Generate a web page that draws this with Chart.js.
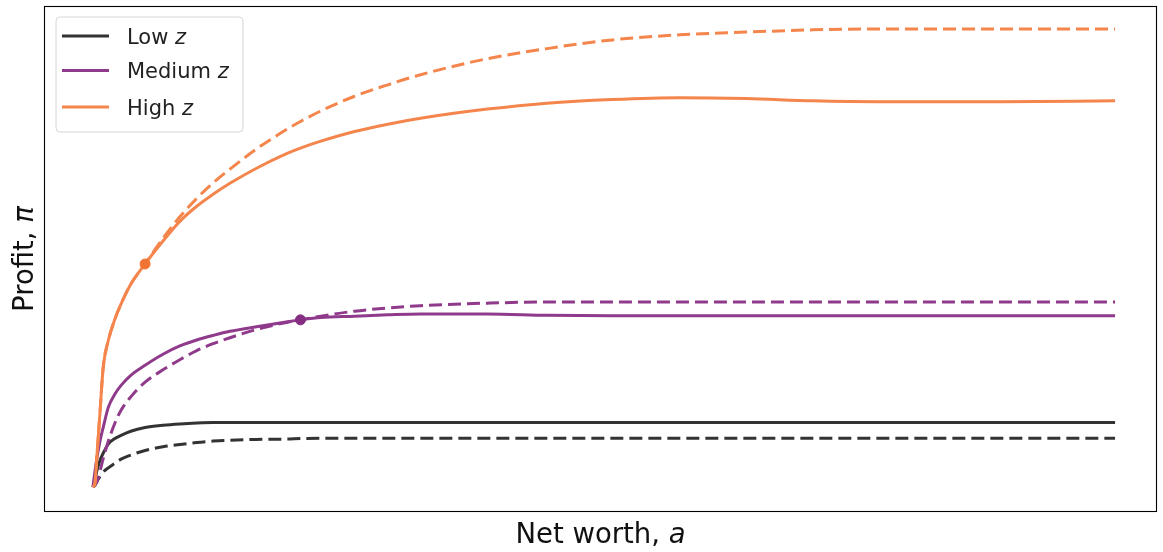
<!DOCTYPE html>
<html><head><meta charset="utf-8">
<script src="https://cdn.jsdelivr.net/npm/chart.js@4"></script>
<style>html,body{margin:0;padding:0;background:#fff;} #wrap{width:1163px;height:552px;position:relative}</style>
</head><body><div id="wrap"><canvas id="c" width="1163" height="552"></canvas></div>
<script>
// Net worth grid (arbitrary units) and profit values (arbitrary units)
const netWorth = [0,0.2,0.4,0.7,1.0, 1.5,2.15,2.75,3.7,5.1, 6.85,8.5,10.15,11.75,13.4, 16.0,19.05,20.3,22.3,25.6, 28.85,32.05,38.6,44.4,50.8, 57.4,63.9,70.4,76.9,88.7, 100];
const lowZ      = [0,1.5,3.7,5.9,7.4, 9.4,10.6,11.3,12.2,13.0, 13.5,13.8,14.0,14.1,14.1, 14.1,14.1,14.1,14.1,14.1, 14.1,14.1,14.1,14.1,14.1, 14.1,14.1,14.1,14.1,14.1, 14.1];
const lowZUnc   = [0,0.4,1.3,2.4,3.3, 4.2,5.2,6.1,7.0,8.0, 8.8,9.3,9.75,10.05,10.25, 10.4,10.5,10.6,10.65,10.65, 10.65,10.65,10.65,10.65,10.65, 10.65,10.65,10.65,10.65,10.65, 10.65];
const medZ      = [0,3.5,6.5,10.2,13.0, 17.4,20.3,22.2,24.4,26.6, 29.0,30.8,32.1,33.1,34.0, 35.0,36.1,36.5,37.0,37.3, 37.6,37.8,37.8,37.5,37.4, 37.4,37.4,37.4,37.4,37.4, 37.4];
const medZUnc   = [0,0.6,1.2,3.6,6.2, 10.0,14.0,16.8,19.7,22.9, 25.6,27.8,29.8,31.3,32.6, 34.4,36.0,36.5,37.3,38.4, 39.1,39.6,40.15,40.4,40.4, 40.4,40.4,40.4,40.4,40.4, 40.4];
const highZ     = [0,0.9,7.2,16.7,26.1, 32.0,36.7,40.0,44.3,48.7, 53.7,58.0,61.3,63.9,66.3, 69.6,72.9,74.0,75.5,77.6, 79.2,80.5,82.5,83.8,84.6, 85.0,84.8,84.3,84.1,84.1, 84.3];
const highZUnc  = [0,0.9,7.2,16.7,26.1, 32.0,36.7,40.0,44.3,48.7, 54.3,59.0,63.0,66.4,69.4, 73.8,78.2,79.8,82.1,85.3, 87.8,90.0,93.5,95.7,97.6, 98.7,99.3,99.8,100,100, 100];
const kinkX = [5.1, 20.3];
const kinkY = [48.7, 36.5];
const legendLabels = ["Low", "Medium", "High"];

const pts = arr => arr.map((v, i) => ({x: netWorth[i], y: v}));
const C_LOW = '#333333', C_MED = '#8f3a8b', C_HIGH = '#f4854c';

const lineDs = (data, color, dashed, order) => ({
  data: pts(data), borderColor: color, backgroundColor: color, borderWidth: 3,
  borderDash: dashed ? [13, 6] : [], pointRadius: 0, fill: false,
  cubicInterpolationMode: 'monotone', order: order
});

const datasets = [
  lineDs(lowZ, C_LOW, false, 10),
  lineDs(lowZUnc, C_LOW, true, 9),
  lineDs(medZ, C_MED, false, 8),
  lineDs(medZUnc, C_MED, true, 7),
  lineDs(highZ, C_HIGH, false, 6),
  lineDs(highZUnc, C_HIGH, true, 5),
  { type: 'scatter', data: [{x: kinkX[1], y: kinkY[1]}], backgroundColor: '#862f82', borderColor: '#862f82', pointRadius: 5, order: 1 },
  { type: 'scatter', data: [{x: kinkX[0], y: kinkY[0]}], backgroundColor: '#f07334', borderColor: '#f07334', pointRadius: 5, order: 0 }
];

const decor = {
  id: 'decor',
  afterDraw(chart) {
    const ctx = chart.ctx, a = chart.chartArea;
    ctx.save();
    ctx.strokeStyle = '#000'; ctx.lineWidth = 1.1;
    ctx.strokeRect(a.left + 0.5, a.top + 0.5, a.right - a.left - 1, a.bottom - a.top - 1);
    const lx = 56, ly = 17, lw = 187, lh = 115, r = 4;
    ctx.beginPath();
    ctx.moveTo(lx + r, ly); ctx.lineTo(lx + lw - r, ly); ctx.quadraticCurveTo(lx + lw, ly, lx + lw, ly + r);
    ctx.lineTo(lx + lw, ly + lh - r); ctx.quadraticCurveTo(lx + lw, ly + lh, lx + lw - r, ly + lh);
    ctx.lineTo(lx + r, ly + lh); ctx.quadraticCurveTo(lx, ly + lh, lx, ly + lh - r);
    ctx.lineTo(lx, ly + r); ctx.quadraticCurveTo(lx, ly, lx + r, ly); ctx.closePath();
    ctx.fillStyle = 'rgba(255,255,255,0.85)'; ctx.fill();
    ctx.strokeStyle = '#d6d6d6'; ctx.lineWidth = 1; ctx.stroke();
    const rows = [36, 70.5, 107], bases = [43.5, 78, 114.5];
    const cols = [datasets[0].borderColor, datasets[2].borderColor, datasets[4].borderColor];
    ctx.textBaseline = 'alphabetic'; ctx.textAlign = 'left';
    for (let i = 0; i < 3; i++) {
      ctx.strokeStyle = cols[i]; ctx.lineWidth = 3;
      ctx.beginPath(); ctx.moveTo(62, rows[i]); ctx.lineTo(109, rows[i]); ctx.stroke();
      ctx.fillStyle = '#222';
      ctx.font = '21px "DejaVu Sans"';
      const t = legendLabels[i] + ' ';
      ctx.fillText(t, 127, bases[i]);
      const w = ctx.measureText(t).width;
      ctx.font = 'oblique 21px "DejaVu Sans"';
      ctx.fillText('z', 127 + w, bases[i]);
    }
    ctx.fillStyle = '#111';
    ctx.font = '27.5px "DejaVu Sans"';
    const xl = 'Net worth, ';
    const w1 = ctx.measureText(xl).width;
    ctx.font = 'oblique 27.5px "DejaVu Sans"';
    const w2 = ctx.measureText('a').width;
    const cx = (a.left + a.right) / 2;
    const sx = cx - (w1 + w2) / 2;
    ctx.font = '27.5px "DejaVu Sans"'; ctx.fillText(xl, sx, 543);
    ctx.font = 'oblique 27.5px "DejaVu Sans"'; ctx.fillText('a', sx + w1, 543);
    ctx.save();
    ctx.translate(33, (a.top + a.bottom) / 2);
    ctx.rotate(-Math.PI / 2);
    ctx.font = '27.5px "DejaVu Sans"';
    const yl = 'Profit, ';
    const y1 = ctx.measureText(yl).width;
    ctx.font = 'oblique 27.5px "DejaVu Sans"';
    const y2 = ctx.measureText('π').width;
    const sy = -(y1 + y2) / 2;
    ctx.font = '27.5px "DejaVu Sans"'; ctx.fillText(yl, sy, 0);
    ctx.font = 'oblique 27.5px "DejaVu Sans"'; ctx.fillText('π', sy + y1, 0);
    ctx.restore();
    ctx.restore();
  }
};

new Chart(document.getElementById('c'), {
  type: 'line',
  data: { datasets },
  options: {
    responsive: false, animation: false, devicePixelRatio: 1,
    layout: { padding: { left: 44, right: 5, top: 4, bottom: 40 } },
    plugins: { legend: { display: false }, tooltip: { enabled: false } },
    scales: {
      x: { type: 'linear', display: false, min: -4.79, max: 104.1 },
      y: { type: 'linear', display: false, min: -5.43, max: 105.0 }
    }
  },
  plugins: [decor]
});
</script></body></html>
